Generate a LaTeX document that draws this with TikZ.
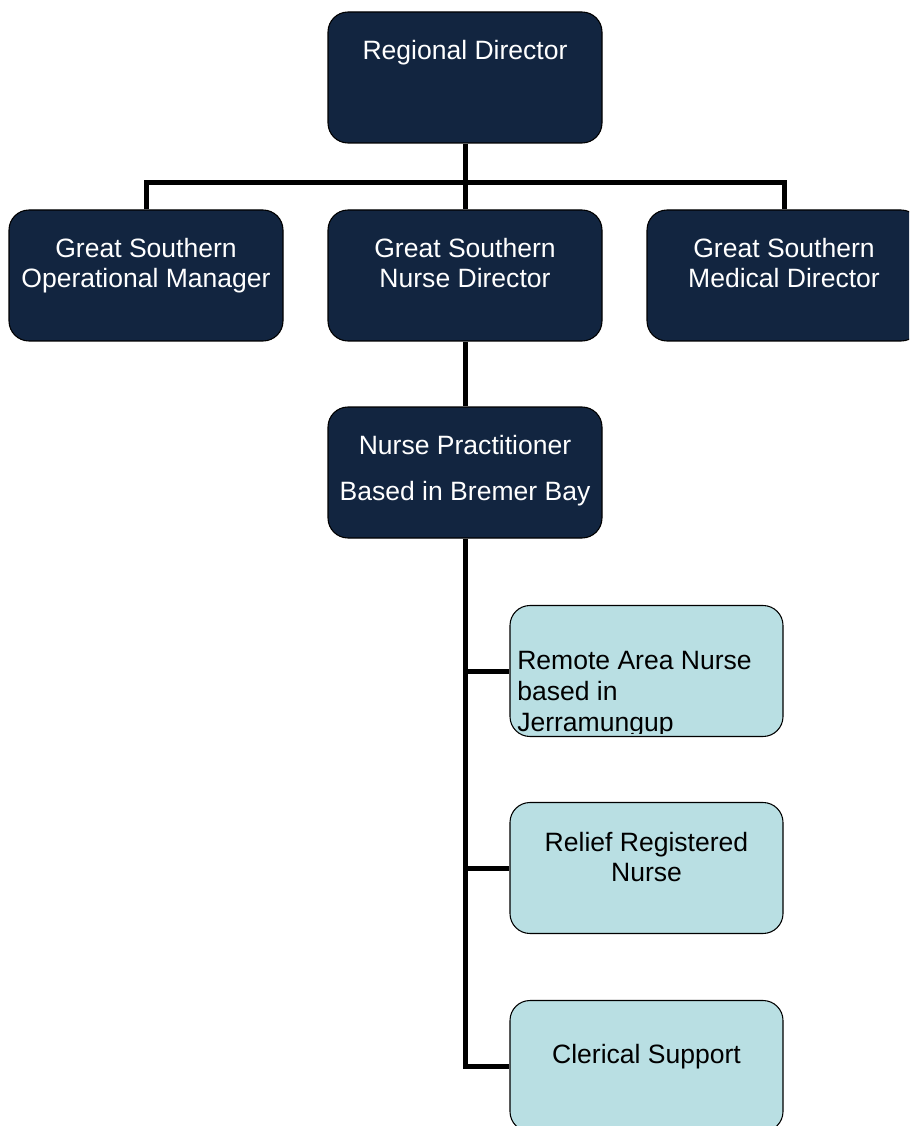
\documentclass[tikz,border=0pt]{standalone}
\usepackage{fontspec}
\setmainfont{Liberation Sans}
\definecolor{navy}{RGB}{18,37,64}
\definecolor{paleblue}{RGB}{185,223,227}
\begin{document}
\begin{tikzpicture}[x=0.75pt,y=-0.75pt,
  box/.style={draw=black, line width=0.8pt, rounded corners=15pt, minimum width=205.5pt, minimum height=98.25pt, inner sep=0pt},
  darkbox/.style={box, fill=navy},
  lightbox/.style={box, fill=paleblue, minimum width=204.75pt},
  lbl/.style={font=\fontsize{19.9}{22.5}\selectfont, inner sep=0pt, align=center, text depth=4.2pt},
  wlbl/.style={lbl, text=white},
  blbl/.style={lbl, text=black},
  conn/.style={line width=3.75pt, black}]
\clip (0,0) rectangle (909,1126);
\fill[white] (0,0) rectangle (909,1126);
% boxes
\node[darkbox] (rd) at (465,77.5) {};
\node[darkbox] (om) at (146,275.5) {};
\node[darkbox] (nd) at (465,275.5) {};
\node[darkbox] (md) at (784,275.5) {};
\node[darkbox] (np) at (465,472.5) {};
\node[lightbox] (ran) at (646.5,671) {};
\node[lightbox] (rrn) at (646.5,868) {};
\node[lightbox] (cs) at (646.5,1066) {};
% connectors
\draw[conn] (om.north) -- ++(0,-27) -| (md.north);
\draw[conn] (rd.south) -- (nd.north);
\draw[conn] (nd.south) -- (np.north);
\draw[conn] (np.south) |- (cs.west);
\draw[conn] (np.south |- ran.west) -- (ran.west);
\draw[conn] (np.south |- rrn.west) -- (rrn.west);
% labels
\node[wlbl, anchor=base] (rdt) at (465,60) {Regional Director};
\node[wlbl] (omt) at (146,266) {Great Southern\\Operational Manager};
\node[wlbl] (ndt) at (465,266) {Great Southern\\Nurse Director};
\node[wlbl] (mdt) at (784,266) {Great Southern\\Medical Director};
\node[wlbl] (npt) at (465,470.3) {Nurse Practitioner\\[12pt]Based in Bremer Bay};
\begin{scope}
  \clip[rounded corners=15pt] (ran.north west) rectangle ([yshift=3pt]ran.south east);
  \node[blbl, align=left, anchor=west, font=\fontsize{19.9}{23.25}\selectfont] (rant) at (517,694.2) {Remote Area Nurse\\based in\\Jerramungup};
\end{scope}
\node[blbl] (rrnt) at (646.5,860.1) {Relief Registered\\Nurse};
\node[blbl, anchor=base] (cst) at (646.5,1063) {Clerical Support};
\end{tikzpicture}
\end{document}
